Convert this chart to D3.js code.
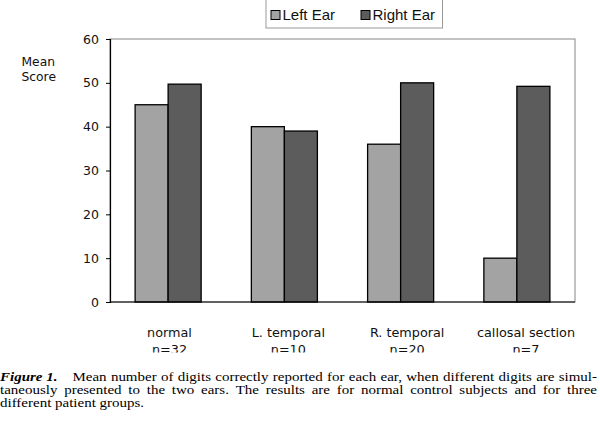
<!DOCTYPE html>
<html><head><meta charset="utf-8">
<script src="https://cdn.jsdelivr.net/npm/d3@7"></script>
<style>html,body{margin:0;padding:0;background:#fff;}svg{display:block;}</style>
</head><body>
<script>
const categories = ["normal", "L. temporal", "R. temporal", "callosal section"];
const groupSizes = ["n=32", "n=10", "n=20", "n=7"];
const seriesNames = ["Left Ear", "Right Ear"];
const leftEar = [45, 40, 36, 10];
const rightEar = [49.7, 39, 50, 49.2];
const yTicks = [0, 10, 20, 30, 40, 50, 60];
const yLabel = ["Mean", "Score"];
const captionLead = "Figure 1.";
const captionLines = [
  "Mean number of digits correctly reported for each ear, when different digits are simul-",
  "taneously presented to the two ears. The results are for normal control subjects and for three",
  "different patient groups."
];
const colors = ["#a3a3a3", "#5c5c5c"];

const W = 600, H = 424;
const svg = d3.select("body").append("svg").attr("width", W).attr("height", H);

const plot = {left: 110, right: 575, top: 39, bottom: 302};
const x = d3.scaleBand().domain(categories).range([plot.left, plot.right])
  .paddingInner(0.432).paddingOuter(0.216);
const xs = d3.scaleBand().domain(seriesNames).range([0, x.bandwidth()]);
const y = d3.scaleLinear().domain([0, 60]).range([plot.bottom, plot.top]);
const xLab = d3.scalePoint().domain(categories).range([169.5, 526]);

const data = categories.map((c, i) => ({cat: c, vals: [leftEar[i], rightEar[i]]}));

// frame
svg.append("rect").attr("x", plot.left).attr("y", plot.top)
  .attr("width", plot.right - plot.left).attr("height", plot.bottom - plot.top)
  .attr("fill", "none").attr("stroke", "#858585").attr("stroke-width", 1);

// bars
const g = svg.append("g");
data.forEach(d => {
  d.vals.forEach((v, j) => {
    g.append("rect")
      .attr("x", x(d.cat) + xs(seriesNames[j]))
      .attr("y", y(v))
      .attr("width", xs.bandwidth())
      .attr("height", y(0) - y(v))
      .attr("fill", colors[j]).attr("stroke", "#000").attr("stroke-width", 1.3);
  });
});

// y axis
const yAxis = svg.append("g").attr("transform", `translate(${plot.left},0)`)
  .call(d3.axisLeft(y).tickValues(yTicks).tickSize(4).tickPadding(7).tickFormat(d3.format("d")));
yAxis.select(".domain").attr("stroke", "#000").attr("stroke-width", 1.2);
yAxis.selectAll(".tick line").attr("stroke", "#000");
yAxis.selectAll("text").attr("font-family", "DejaVu Sans").attr("font-size", 12.5).attr("fill", "#111");

// x baseline
svg.append("line").attr("x1", plot.left).attr("x2", plot.right)
  .attr("y1", y(0)).attr("y2", y(0)).attr("stroke", "#000").attr("stroke-width", 1.2);

// y label
svg.append("text").attr("font-family", "DejaVu Sans").attr("font-size", 12.3).attr("fill", "#111")
  .selectAll("tspan").data(yLabel).join("tspan")
  .attr("x", 21.5).attr("y", (d, i) => 66 + i * 14.5).text(d => d);

// category labels (clipped at bottom as in reference)
svg.append("clipPath").attr("id", "clipLab").append("rect")
  .attr("x", 0).attr("y", 305).attr("width", W).attr("height", 47.5);
const labG = svg.append("g").attr("clip-path", "url(#clipLab)");
categories.forEach((c, i) => {
  const t = labG.append("text").attr("font-family", "DejaVu Sans").attr("font-size", 12.8)
    .attr("fill", "#111").attr("text-anchor", "middle");
  t.append("tspan").attr("x", xLab(c)).attr("y", 337).text(c);
  t.append("tspan").attr("x", xLab(c)).attr("y", 354).text(groupSizes[i]);
});

// legend
const lg = svg.append("g");
lg.append("rect").attr("x", 266).attr("y", -1).attr("width", 176.5).attr("height", 29)
  .attr("fill", "#fff").attr("stroke", "#999").attr("stroke-width", 1);
const lx = [271, 361];
seriesNames.forEach((s, j) => {
  lg.append("rect").attr("x", lx[j]).attr("y", 10.5).attr("width", 9).attr("height", 9)
    .attr("fill", colors[j]).attr("stroke", "#000").attr("stroke-width", 1);
  lg.append("text").attr("x", lx[j] + 11.5).attr("y", 20).attr("font-family", "Liberation Sans")
    .attr("font-size", 15).attr("fill", "#111").text(s);
});

// caption (justified, slightly compressed vertically as in the reference)
const sy = 0.86;
const cap = svg.append("g").attr("transform", `translate(0,380.5) scale(1,${sy})`)
  .attr("font-family", "Liberation Serif").attr("font-size", 15).attr("fill", "#000");
cap.append("text").attr("x", 0).attr("y", 0).attr("font-weight", "bold").attr("font-style", "italic")
  .text(captionLead);
function justify(line, x0, x1, yy, doJustify) {
  const words = line.split(" ");
  const nodes = words.map(w => cap.append("text").attr("y", yy).text(w));
  const widths = nodes.map(n => n.node().getComputedTextLength());
  const total = d3.sum(widths);
  const gap = doJustify ? (x1 - x0 - total) / (words.length - 1) : 3.75;
  let cx = x0;
  nodes.forEach((n, i) => { n.attr("x", cx); cx += widths[i] + gap; });
}
justify(captionLines[0], 72.5, 597, 0, true);
justify(captionLines[1], 0, 597, 13.3 / sy, true);
justify(captionLines[2], 0, 597, 26.2 / sy, false);
</script>
</body></html>
